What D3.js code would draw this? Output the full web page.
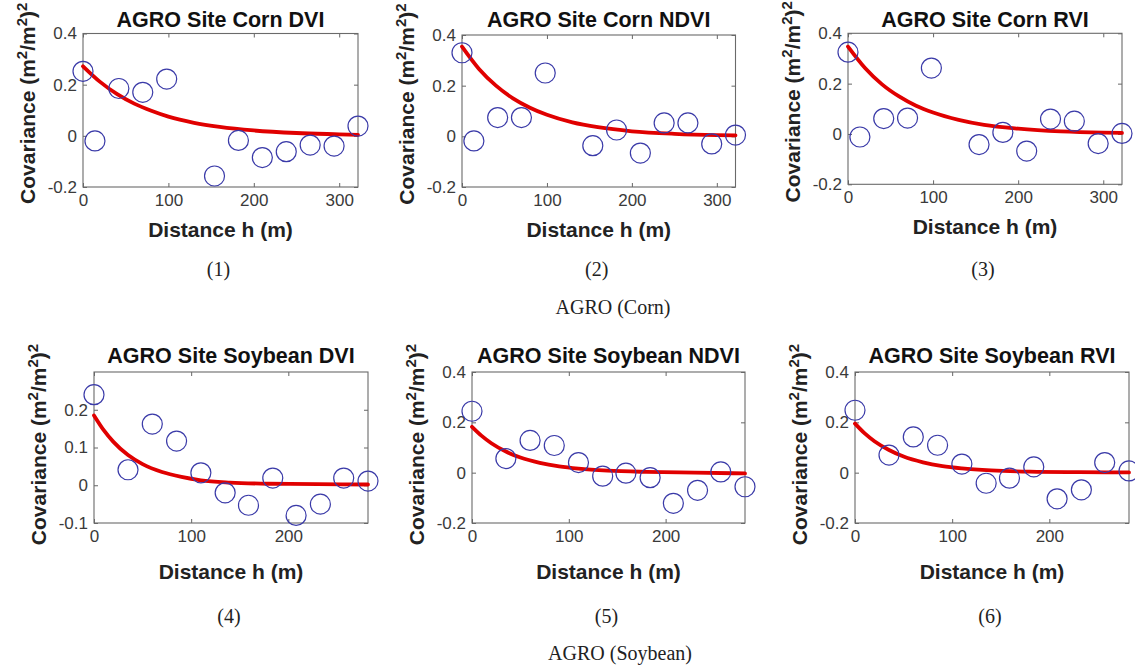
<!DOCTYPE html>
<html>
<head>
<meta charset="utf-8">
<script src="https://cdn.jsdelivr.net/npm/d3@7"></script>
<style>
  html, body { margin: 0; padding: 0; background: #fff; }
  svg { display: block; }
</style>
</head>
<body>
<svg id="chart" width="1135" height="668"></svg>
<script>
// Lag distances (m) of the experimental covariance points
const cornLags = [0, 14, 42, 70, 98, 154, 182, 210, 238, 266, 294, 322];
const soyLags  = [0, 35, 60, 85, 110, 135, 159, 184, 208, 233, 257, 282];

// Experimental covariance values
const cornDVI  = [0.252, -0.020, 0.185, 0.170, 0.222, -0.157, -0.018, -0.085, -0.062, -0.036, -0.040, 0.038];
const cornNDVI = [0.330, -0.018, 0.074, 0.074, 0.250, -0.037, 0.025, -0.066, 0.053, 0.053, -0.030, 0.005];
const cornRVI  = [0.325, -0.012, 0.061, 0.063, 0.262, -0.042, 0.006, -0.068, 0.059, 0.051, -0.038, 0.002];
const soyDVI   = [0.240, 0.041, 0.162, 0.117, 0.033, -0.020, -0.053, 0.019, -0.080, -0.050, 0.019, 0.011];
const soyNDVI  = [0.244, 0.056, 0.128, 0.108, 0.040, -0.014, -0.002, -0.020, -0.122, -0.070, 0.003, -0.056];
const soyRVI   = [0.248, 0.070, 0.142, 0.109, 0.034, -0.042, -0.022, 0.023, -0.104, -0.068, 0.040, 0.007];

// Fitted covariance model, sampled at these distances
const cornCurveH = [0, 20, 40, 60, 80, 100, 130, 160, 200, 250, 300, 322];
const soyCurveH  = [0, 10, 20, 35, 50, 70, 90, 110, 140, 180, 230, 282];
const cornDVIFit  = [0.272, 0.211, 0.163, 0.126, 0.098, 0.075, 0.051, 0.035, 0.021, 0.011, 0.006, 0.004];
const cornNDVIFit = [0.354, 0.266, 0.200, 0.150, 0.113, 0.085, 0.055, 0.036, 0.020, 0.010, 0.005, 0.004];
const cornRVIFit  = [0.347, 0.262, 0.197, 0.149, 0.112, 0.085, 0.056, 0.036, 0.021, 0.010, 0.005, 0.004];
const soyDVIFit   = [0.185, 0.146, 0.115, 0.080, 0.056, 0.035, 0.022, 0.013, 0.007, 0.004, 0.003, 0.002];
const soyNDVIFit  = [0.182, 0.146, 0.117, 0.084, 0.060, 0.039, 0.025, 0.016, 0.008, 0.003, 0.000, -0.003];
const soyRVIFit   = [0.195, 0.156, 0.125, 0.090, 0.064, 0.041, 0.026, 0.017, 0.009, 0.004, 0.002, 0.001];

// Axis ticks
const cornXTicks = [0, 100, 200, 300];
const soyXTicks  = [0, 100, 200];
const yTicksWide = [-0.2, 0, 0.2, 0.4];
const yTicksSoyDVI = [-0.1, 0, 0.1, 0.2];

// Titles and captions
const titles = [
  "AGRO Site Corn DVI", "AGRO Site Corn NDVI", "AGRO Site Corn RVI",
  "AGRO Site Soybean DVI", "AGRO Site Soybean NDVI", "AGRO Site Soybean RVI"
];
const panelCaptions = ["(1)", "(2)", "(3)", "(4)", "(5)", "(6)"];
const rowCaptions = ["AGRO (Corn)", "AGRO (Soybean)"];

// Panel layout: plot-box rectangle in page pixels
const panels = [
  { title: titles[0], lags: cornLags, vals: cornDVI,  ch: cornCurveH, cv: cornDVIFit,  xMax: 322, yDom: [-0.2, 0.4], yT: yTicksWide, xT: cornXTicks, box: [83, 33.5, 358, 187],  row: 0 },
  { title: titles[1], lags: cornLags, vals: cornNDVI, ch: cornCurveH, cv: cornNDVIFit, xMax: 322, yDom: [-0.2, 0.4], yT: yTicksWide, xT: cornXTicks, box: [462, 35, 735.5, 187], row: 0 },
  { title: titles[2], lags: cornLags, vals: cornRVI,  ch: cornCurveH, cv: cornRVIFit,  xMax: 322, yDom: [-0.2, 0.4], yT: yTicksWide, xT: cornXTicks, box: [848, 33.3, 1122, 184.3], row: 0 },
  { title: titles[3], lags: soyLags,  vals: soyDVI,   ch: soyCurveH,  cv: soyDVIFit,   xMax: 282, yDom: [-0.1, 0.3], yT: yTicksSoyDVI, xT: soyXTicks, box: [94, 372, 368, 523],   row: 1 },
  { title: titles[4], lags: soyLags,  vals: soyNDVI,  ch: soyCurveH,  cv: soyNDVIFit,  xMax: 282, yDom: [-0.2, 0.4], yT: yTicksWide, xT: soyXTicks, box: [472, 372, 745, 523],  row: 1 },
  { title: titles[5], lags: soyLags,  vals: soyRVI,   ch: soyCurveH,  cv: soyRVIFit,   xMax: 282, yDom: [-0.2, 0.4], yT: yTicksWide, xT: soyXTicks, box: [855, 372, 1129, 523], row: 1 }
];

const FONT = "'Liberation Sans', Arial, Helvetica, sans-serif";
const SERIF = "'Liberation Serif', 'Times New Roman', serif";
const svg = d3.select("#chart");

const fmt = d => d === 0 ? "0" : String(+d.toFixed(1));

panels.forEach((p, i) => {
  const [x0, y0, x1, y1] = p.box;
  const x = d3.scaleLinear().domain([0, p.xMax]).range([x0, x1]);
  const y = d3.scaleLinear().domain(p.yDom).range([y1, y0]);
  const g = svg.append("g");

  // bottom axis with labels, ticks pointing inward
  const bx = g.append("g").attr("transform", `translate(0,${y1})`)
    .call(d3.axisBottom(x).tickValues(p.xT).tickFormat(d3.format("d")).tickSizeInner(-4).tickSizeOuter(0).tickPadding(7));
  // left axis with labels
  const ly = g.append("g").attr("transform", `translate(${x0},0)`)
    .call(d3.axisLeft(y).tickValues(p.yT).tickFormat(fmt).tickSizeInner(-4).tickSizeOuter(0).tickPadding(6));
  // top and right ticks without labels
  const tx = g.append("g").attr("transform", `translate(0,${y0})`)
    .call(d3.axisTop(x).tickValues(p.xT).tickFormat("").tickSizeInner(-4).tickSizeOuter(0));
  const ry = g.append("g").attr("transform", `translate(${x1},0)`)
    .call(d3.axisRight(y).tickValues(p.yT).tickFormat("").tickSizeInner(-4).tickSizeOuter(0));

  [bx, ly, tx, ry].forEach(a => {
    a.select(".domain").remove();
    a.selectAll(".tick line").attr("stroke", "#666").attr("stroke-width", 1);
    a.selectAll(".tick text").attr("fill", "#3a3a3a").style("font-family", FONT).style("font-size", "17px");
  });
  bx.selectAll(".tick text").attr("dy", "0.71em");

  // plot box
  g.append("rect").attr("x", x0).attr("y", y0).attr("width", x1 - x0).attr("height", y1 - y0)
    .attr("fill", "none").attr("stroke", "#6a6a6a").attr("stroke-width", 1.1);

  // fitted model curve
  const curve = p.ch.map((h, k) => [h, p.cv[k]]);
  g.append("path").datum(curve)
    .attr("d", d3.line().x(d => x(d[0])).y(d => y(d[1])).curve(d3.curveMonotoneX))
    .attr("fill", "none").attr("stroke", "#e00000").attr("stroke-width", 3.8)
    .attr("stroke-linecap", "round");

  // experimental points
  g.selectAll("circle.pt").data(p.lags.map((h, k) => [h, p.vals[k]])).join("circle")
    .attr("class", "pt")
    .attr("cx", d => x(d[0])).attr("cy", d => y(d[1])).attr("r", 10)
    .attr("fill", "none").attr("stroke", "#3a3aa8").attr("stroke-width", 1.2);

  // title
  g.append("text").attr("x", (x0 + x1) / 2).attr("y", p.row === 0 ? 27 : 363)
    .attr("text-anchor", "middle").attr("fill", "#111")
    .style("font-family", FONT).style("font-size", "21.5px").style("font-weight", "bold")
    .text(p.title);

  // x label
  g.append("text").attr("x", (x0 + x1) / 2).attr("y", y1 + (p.row === 0 ? 50 : 56))
    .attr("text-anchor", "middle").attr("fill", "#222")
    .style("font-family", FONT).style("font-size", "21px").style("font-weight", "bold")
    .text("Distance h (m)");

  // y label with superscripts
  const cy = (y0 + y1) / 2 + (p.row === 0 ? -7 : -3);
  const yl = g.append("text")
    .attr("transform", `translate(${x0 - 48},${cy}) rotate(-90)`)
    .attr("text-anchor", "middle").attr("fill", "#222")
    .style("font-family", FONT).style("font-size", "21px").style("font-weight", "bold");
  yl.append("tspan").text("Covariance (m");
  yl.append("tspan").attr("dy", -8).style("font-size", "15px").text("2");
  yl.append("tspan").attr("dy", 8).text("/m");
  yl.append("tspan").attr("dy", -8).style("font-size", "15px").text("2");
  yl.append("tspan").attr("dy", 8).text(")");
  yl.append("tspan").attr("dy", -8).style("font-size", "15px").text("2");

  // panel caption
  svg.append("text").attr("x", (x0 + x1) / 2 - 2).attr("y", p.row === 0 ? 276 : 623)
    .attr("text-anchor", "middle").attr("fill", "#222")
    .style("font-family", SERIF).style("font-size", "20px")
    .text(panelCaptions[i]);
});

// row captions
svg.append("text").attr("x", 613).attr("y", 314).attr("text-anchor", "middle").attr("fill", "#222")
  .style("font-family", SERIF).style("font-size", "20px").text(rowCaptions[0]);
svg.append("text").attr("x", 620).attr("y", 660).attr("text-anchor", "middle").attr("fill", "#222")
  .style("font-family", SERIF).style("font-size", "20px").text(rowCaptions[1]);
</script>
</body>
</html>
